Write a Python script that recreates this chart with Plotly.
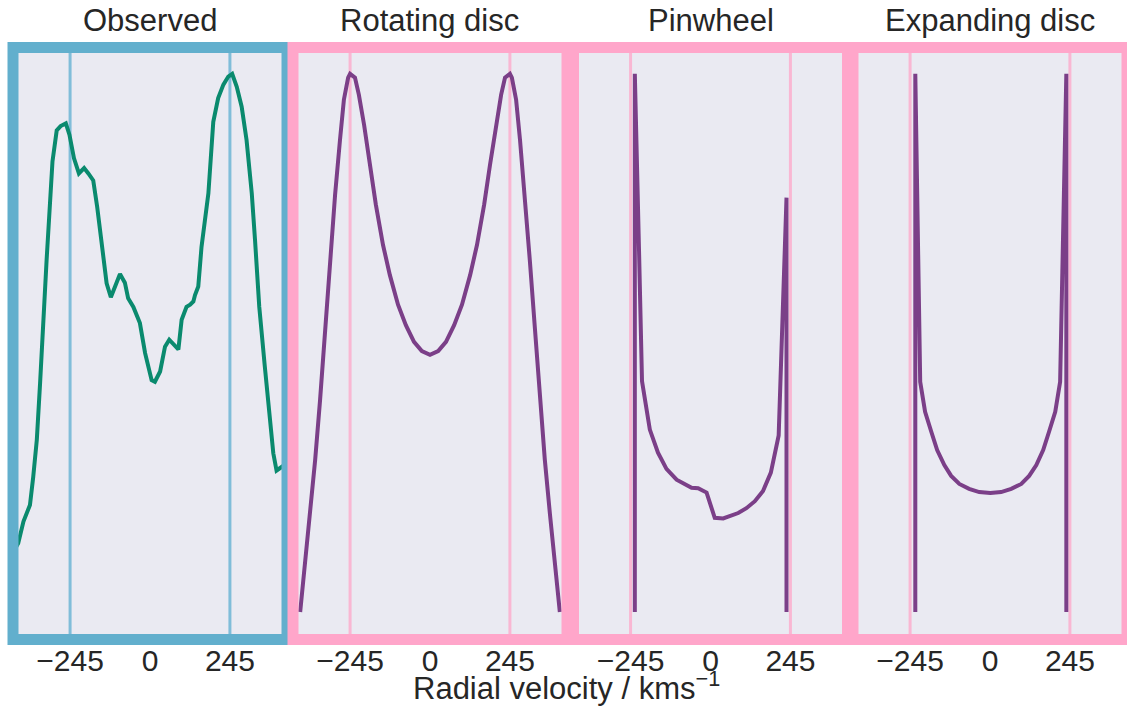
import plotly.graph_objects as go

# ---- data -------------------------------------------------------------
panel_titles = ["Observed", "Rotating disc", "Pinwheel", "Expanding disc"]
tick_vals = [-245, 0, 245]
tick_text = ["\u2212245", "0", "245"]
ref_velocities = [-245, 245]

obs_v = [-440, -404, -388, -368, -358, -347, -337, -330, -324, -317,
         -299, -286, -274, -258, -247, -233, -218, -202, -189, -174,
         -162, -133, -120, -92, -77, -67, -51, -31, -15, 5,
         15, 31, 46, 59, 87, 97, 112, 123, 133, 138,
         148, 158, 179, 194, 209, 225, 240, 252, 266, 281,
         296, 312, 322, 335, 352, 368, 378, 388, 404, 435]
obs_f = [0.089, 0.128, 0.168, 0.199, 0.251, 0.320, 0.425, 0.518, 0.580, 0.654,
         0.837, 0.895, 0.903, 0.908, 0.887, 0.843, 0.815, 0.825, 0.815, 0.802,
         0.753, 0.611, 0.585, 0.628, 0.612, 0.583, 0.567, 0.537, 0.481, 0.431,
         0.428, 0.447, 0.493, 0.506, 0.488, 0.543, 0.567, 0.571, 0.577, 0.589,
         0.605, 0.679, 0.778, 0.911, 0.955, 0.980, 0.995, 1.000, 0.976, 0.939,
         0.877, 0.778, 0.691, 0.567, 0.456, 0.351, 0.295, 0.263, 0.270, 0.283]

rot_v = [-398, -383, -368, -352, -337, -322, -306, -291, -276, -264, -251,
         -245, -230, -218, -202, -184, -166, -144, -123, -98, -74, -49, -25,
         0,
         25, 49, 74, 98, 123, 144, 166, 184, 202, 218, 230, 245,
         251, 264, 276, 291, 306, 322, 337, 352, 368, 383, 398]
rot_f = [0.0, 0.087, 0.180, 0.283, 0.394, 0.524, 0.654, 0.775, 0.877, 0.952,
         0.993, 1.0, 0.993, 0.961, 0.905, 0.831, 0.757, 0.682, 0.626, 0.571,
         0.533, 0.502, 0.485,
         0.478,
         0.485, 0.502, 0.533, 0.571, 0.626, 0.682, 0.757, 0.831, 0.905,
         0.961, 0.993, 1.0,
         0.993, 0.952, 0.877, 0.775, 0.654, 0.524, 0.394, 0.283, 0.180,
         0.087, 0.0]

pin_v = [-232, -232, -219, -210, -186, -161, -135, -104, -58, -38, -12,
         13, 39, 85, 110, 136, 161, 185, 209, 221, 233, 233]
pin_f = [0.0, 1.0, 0.669, 0.429, 0.339, 0.296, 0.266, 0.246, 0.231, 0.230,
         0.222, 0.175, 0.174, 0.184, 0.193, 0.206, 0.225, 0.259, 0.328,
         0.562, 0.770, 0.0]

exp_v = [-229, -229, -214, -199, -180, -162, -140, -119, -94, -64, -33,
         1, 34, 65, 96, 120, 142, 163, 181, 200, 215, 234, 234]
exp_f = [0.0, 1.0, 0.428, 0.372, 0.335, 0.301, 0.273, 0.253, 0.238, 0.229,
         0.223, 0.221, 0.223, 0.229, 0.238, 0.253, 0.273, 0.301, 0.335,
         0.372, 0.428, 1.0, 0.0]

series = [(obs_v, obs_f), (rot_v, rot_f), (pin_v, pin_f), (exp_v, exp_f)]

# ---- styling ----------------------------------------------------------
W, H = 1127, 708
FONT = "Liberation Sans, Arial, Helvetica, sans-serif"
TEXT = "#262626"
BG = "#EAEAF2"
OBS_COLOR = "#0A8A6E"
MODEL_COLOR = "#7B3F88"
FRAME_COLORS = ["#62AFCD", "#FFA6CA", "#FFA6CA", "#FFA6CA"]
REF_COLORS = ["#80BDD9", "#F9B7D3", "#F9B7D3", "#F9B7D3"]
line_colors = [OBS_COLOR, MODEL_COLOR, MODEL_COLOR, MODEL_COLOR]

# panel boxes in pixels (left, right), shared top/bottom
panel_px = [(13, 287), (293, 567), (573.5, 847.5), (853, 1127)]
top_px, bot_px = 47.5, 639.5
x_range = [-420, 420]
y_range = [-0.051, 1.049]

def px_x(p):
    return p / W

def px_y(p):
    return (H - p) / H

fig = go.Figure()
shapes = []
annotations = []
layout_axes = {}

for i, ((lo, hi), (v, f)) in enumerate(zip(panel_px, series)):
    n = "" if i == 0 else str(i + 1)
    xa, ya = "x" + n, "y" + n
    fig.add_trace(go.Scatter(
        x=v, y=f, mode="lines", xaxis=xa, yaxis=ya,
        line=dict(color=line_colors[i], width=4), showlegend=False,
        hoverinfo="skip"))
    layout_axes["xaxis" + n] = dict(
        domain=[px_x(lo), px_x(hi)], range=x_range, anchor=ya,
        showgrid=False, zeroline=False, showline=False, ticks="",
        tickvals=tick_vals, ticktext=tick_text,
        tickfont=dict(family=FONT, size=30, color=TEXT))
    layout_axes["yaxis" + n] = dict(
        domain=[px_y(bot_px), px_y(top_px)], range=y_range, anchor=xa,
        showgrid=False, zeroline=False, showline=False, ticks="",
        showticklabels=False)
    for rv in ref_velocities:
        shapes.append(dict(
            type="line", xref=xa, yref=ya + " domain", x0=rv, x1=rv,
            y0=0, y1=1, layer="below",
            line=dict(color=REF_COLORS[i], width=3)))
    annotations.append(dict(
        text=panel_titles[i], x=px_x((lo + hi) / 2), y=px_y(40),
        xref="paper", yref="paper", xanchor="center", yanchor="bottom",
        showarrow=False, font=dict(family=FONT, size=31, color=TEXT)))

# frames drawn in panel order so each one sits over its left neighbour
for i, (lo, hi) in enumerate(panel_px):
    shapes.append(dict(
        type="rect", xref="paper", yref="paper",
        x0=px_x(lo), x1=px_x(hi), y0=px_y(bot_px), y1=px_y(top_px),
        layer="above", fillcolor="rgba(0,0,0,0)",
        line=dict(color=FRAME_COLORS[i], width=11)))

annotations.append(dict(
    text="Radial velocity / kms<sup>\u22121</sup>", x=0.503, y=px_y(708),
    xref="paper", yref="paper", xanchor="center", yanchor="bottom",
    showarrow=False, font=dict(family=FONT, size=31, color=TEXT)))

fig.update_layout(
    width=W, height=H, margin=dict(l=0, r=0, t=0, b=0),
    paper_bgcolor="white", plot_bgcolor=BG,
    shapes=shapes, annotations=annotations, **layout_axes)

fig.write_html("out.html")
